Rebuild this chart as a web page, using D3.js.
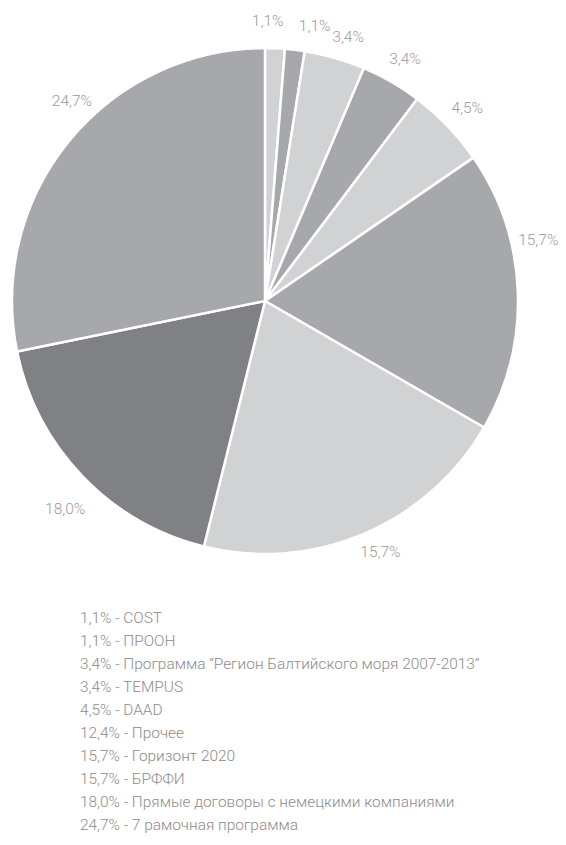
<!DOCTYPE html>
<html>
<head>
<meta charset="utf-8">
<script src="https://cdn.jsdelivr.net/npm/d3@7"></script>
<style>
  body { margin: 0; background: #fff; }
  text { font-family: Roboto, "Open Sans", sans-serif; font-weight: 300; }
</style>
</head>
<body>
<script>
// slices as drawn in the pie (the "Прочее" share is not drawn)
var sliceValues = [1.1, 1.1, 3.4, 3.4, 4.5, 15.7, 18.0, 15.7, 24.7];
var sliceLabels = ["1,1%", "1,1%", "3,4%", "3,4%", "4,5%", "15,7%", "15,7%", "18,0%", "24,7%"];
var sliceShades = ["light", "mid", "light", "mid", "light", "mid", "light", "dark", "mid"];

// legend lines
var legendPercents = ["1,1%", "1,1%", "3,4%", "3,4%", "4,5%", "12,4%", "15,7%", "15,7%", "18,0%", "24,7%"];
var legendNames = ["COST", "ПРООН", "Программа \u201cРегион Балтийского моря 2007-2013\u201d", "TEMPUS", "DAAD",
                   "Прочее", "Горизонт 2020", "БРФФИ", "Прямые договоры с немецкими компаниями", "7 рамочная программа"];

var width = 566, height = 845;
var cx = 265, cy = 301, radius = 253, labelRadius = 280;
var shade = { light: "#d1d2d4", mid: "#a7a8ab", dark: "#808185" };
// small hand nudges for labels the original moved off the slice middle
var labelTurn = [-0.03, 0.06, 0.025, 0, 0, -0.18, -0.03, -0.04, 0.118];
var labelPush = [0, 0, -3, 0, 0, 0, -4, 8, -2];

var svg = d3.select("body").append("svg")
    .attr("width", width)
    .attr("height", height);

var pie = d3.pie().sort(null).value(d => d);
var arcs = pie(sliceValues);

var arc = d3.arc().innerRadius(0).outerRadius(radius);

var g = svg.append("g").attr("transform", `translate(${cx},${cy})`);

g.selectAll("path")
    .data(arcs)
    .enter()
    .append("path")
    .attr("d", arc)
    .attr("fill", (d, i) => shade[sliceShades[i]])
    .attr("stroke", "#fff")
    .attr("stroke-width", 2.5)
    .attr("stroke-linejoin", "round");

var labelPos = (d, i) => {
    var a = (d.startAngle + d.endAngle) / 2 + labelTurn[i];
    var r = labelRadius + labelPush[i];
    return [r * Math.sin(a), -r * Math.cos(a)];
};

g.selectAll("text.lbl")
    .data(arcs)
    .enter()
    .append("text")
    .attr("class", "lbl")
    .attr("x", (d, i) => labelPos(d, i)[0])
    .attr("y", (d, i) => labelPos(d, i)[1])
    .attr("dy", "0.35em")
    .attr("text-anchor", "middle")
    .attr("font-size", 15.5)
    .attr("fill", "#9a9a9c")
    .text((d, i) => sliceLabels[i]);

var legendY = d3.scalePoint()
    .domain(d3.range(legendNames.length))
    .range([618, 825]);

svg.append("g")
    .selectAll("text")
    .data(legendNames)
    .enter()
    .append("text")
    .attr("x", 80)
    .attr("y", (d, i) => legendY(i))
    .attr("dy", "0.35em")
    .attr("font-size", 15.4)
    .attr("fill", "#8c8c8e")
    .text((d, i) => legendPercents[i] + " - " + d);
</script>
</body>
</html>
